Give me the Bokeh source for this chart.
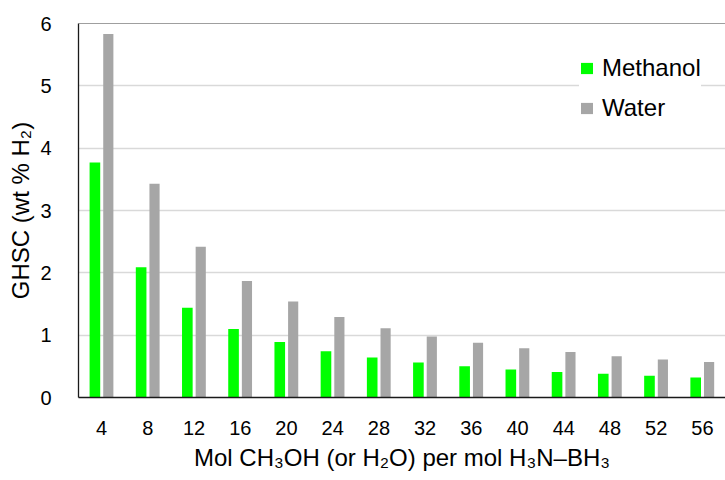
from bokeh.plotting import figure
from bokeh.models import ColumnDataSource, FactorRange, Span, Legend, LegendItem
from bokeh.transform import dodge
from bokeh.embed import file_html
from bokeh.resources import INLINE

ratios = ["4", "8", "12", "16", "20", "24", "28", "32", "36", "40", "44", "48", "52", "56"]
methanol = [3.77, 2.09, 1.44, 1.10, 0.89, 0.74, 0.64, 0.56, 0.50, 0.45, 0.41, 0.38, 0.35, 0.32]
water = [5.83, 3.43, 2.42, 1.87, 1.54, 1.29, 1.11, 0.98, 0.88, 0.79, 0.73, 0.66, 0.61, 0.57]
y_ticks = [0, 1, 2, 3, 4, 5, 6]

FONT = "Liberation Sans"

src = ColumnDataSource(dict(ratio=ratios, methanol=methanol, water=water))

p = figure(
    width=725, height=480,
    x_range=FactorRange(*ratios, range_padding=0),
    y_range=(0, 6),
    output_backend="svg", toolbar_location=None,
    min_border_left=78, min_border_right=0, min_border_top=23, min_border_bottom=83,
)
p.outline_line_color = None
p.background_fill_color = "white"

r_m = p.vbar(x=dodge("ratio", -0.145, range=p.x_range), top="methanol", width=0.23,
             source=src, fill_color="#00ff00", line_color=None)
r_w = p.vbar(x=dodge("ratio", 0.145, range=p.x_range), top="water", width=0.22,
             source=src, fill_color="#a6a6a6", line_color=None)

p.add_layout(Span(location=6, dimension="width", line_color="#404040", line_width=1.2))

# grids
p.xgrid.grid_line_color = None
p.ygrid.grid_line_color = "#d9d9d9"
p.ygrid.grid_line_width = 1.3
p.yaxis.ticker = y_ticks

# axes
for ax in (p.xaxis[0], p.yaxis[0]):
    ax.major_tick_line_color = None
    ax.minor_tick_line_color = None
    ax.major_label_text_font = FONT
    ax.major_label_text_font_size = "20px"
    ax.major_label_text_color = "#000000"
    ax.axis_label_text_font = FONT
    ax.axis_label_text_font_size = "24px"
    ax.axis_label_text_font_style = "normal"
    ax.axis_label_text_color = "#000000"
    ax.axis_line_color = "#1a1a1a"
    ax.axis_line_width = 1.3

p.xaxis.major_label_standoff = 17
p.xaxis.axis_label_standoff = 6
p.xaxis.axis_label = "Mol CH₃OH (or H₂O) per mol H₃N–BH₃"
p.yaxis.major_label_standoff = 21
p.yaxis.axis_label_standoff = 3
p.yaxis.axis_label = "GHSC (wt % H₂)"

legend = Legend(
    items=[LegendItem(label="Methanol", renderers=[r_m]),
           LegendItem(label="Water", renderers=[r_w])],
    location=(501, 275),
    label_text_font=FONT, label_text_font_size="24px", label_text_color="#000000",
    glyph_width=15, glyph_height=14, label_standoff=8, label_height=28,
    spacing=12, padding=10, margin=0,
    border_line_color=None, background_fill_color="white", background_fill_alpha=1.0,
)
p.add_layout(legend)

open("out.html", "w").write(file_html(p, INLINE))
